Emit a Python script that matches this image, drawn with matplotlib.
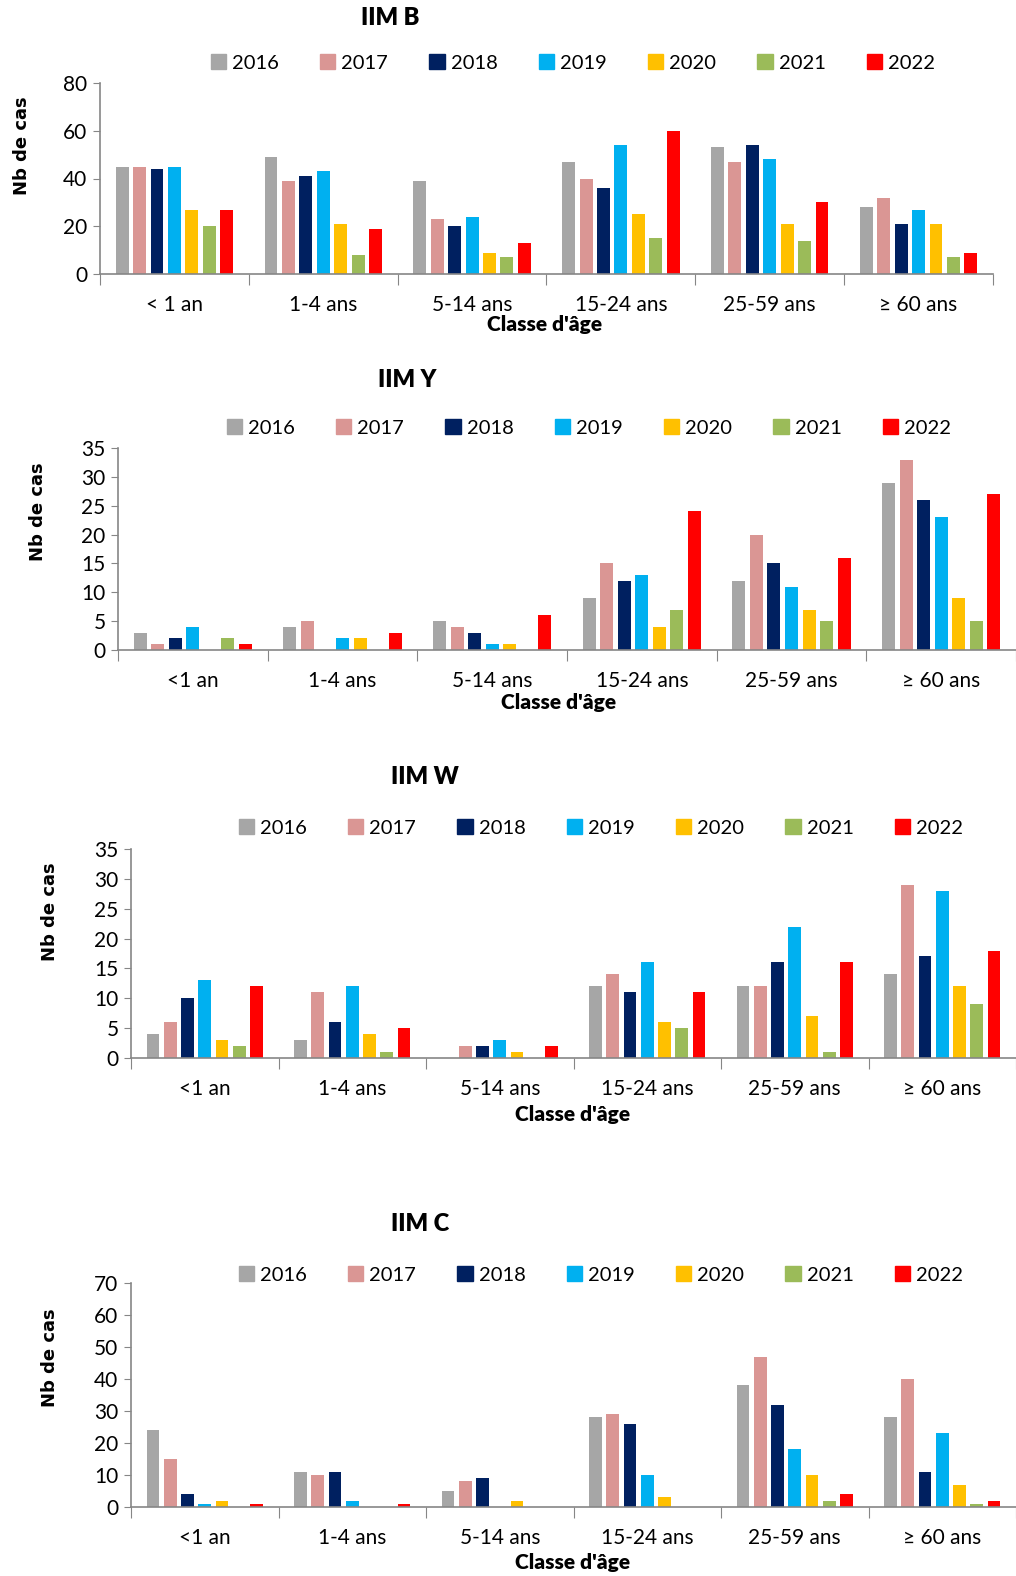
import matplotlib
matplotlib.use("Agg")
import matplotlib.pyplot as plt
import matplotlib.patches as mpatches

# categories and years
ages_b = ['< 1 an', '1-4 ans', '5-14 ans', '15-24 ans', '25-59 ans', '\u2265 60 ans']
ages = ['<1 an', '1-4 ans', '5-14 ans', '15-24 ans', '25-59 ans', '\u2265 60 ans']
years = ['2016', '2017', '2018', '2019', '2020', '2021', '2022']
colors = ['#A6A6A6', '#DA9694', '#002060', '#00B0F0', '#FFC000', '#9BBB59', '#FF0000']

# values: one list per year, one value per age class
iim_b = [
    [45, 49, 39, 47, 53, 28],
    [45, 39, 23, 40, 47, 32],
    [44, 41, 20, 36, 54, 21],
    [45, 43, 24, 54, 48, 27],
    [27, 21, 9, 25, 21, 21],
    [20, 8, 7, 15, 14, 7],
    [27, 19, 13, 60, 30, 9],
]
iim_y = [
    [3, 4, 5, 9, 12, 29],
    [1, 5, 4, 15, 20, 33],
    [2, 0, 3, 12, 15, 26],
    [4, 2, 1, 13, 11, 23],
    [0, 2, 1, 4, 7, 9],
    [2, 0, 0, 7, 5, 5],
    [1, 3, 6, 24, 16, 27],
]
iim_w = [
    [4, 3, 0, 12, 12, 14],
    [6, 11, 2, 14, 12, 29],
    [10, 6, 2, 11, 16, 17],
    [13, 12, 3, 16, 22, 28],
    [3, 4, 1, 6, 7, 12],
    [2, 1, 0, 5, 1, 9],
    [12, 5, 2, 11, 16, 18],
]
iim_c = [
    [24, 11, 5, 28, 38, 28],
    [15, 10, 8, 29, 47, 40],
    [4, 11, 9, 26, 32, 11],
    [1, 2, 0, 10, 18, 23],
    [2, 0, 2, 3, 10, 7],
    [0, 0, 0, 0, 2, 1],
    [1, 1, 0, 0, 4, 2],
]

plt.rcParams['font.family'] = ['Lato', 'DejaVu Sans']

W, H = 1016, 1576
fig = plt.figure(figsize=(W / 100, H / 100), dpi=100)


def px_axes(left, top, right, bottom):
    return fig.add_axes([left / W, 1 - bottom / H, (right - left) / W, (bottom - top) / H])


def panel(data, cats, title, box, ymax, ystep, title_xy, leg_xy, xlab_xy, ylab_xy, colsp):
    ax = px_axes(*box)
    stride = 0.117
    width = 0.087
    for j, vals in enumerate(data):
        xs = [i + (j - 3) * stride for i in range(len(cats))]
        ax.bar(xs, vals, width=width, color=colors[j], zorder=2)
    ax.set_xlim(-0.5, len(cats) - 0.5)
    ax.set_ylim(0, ymax)
    ax.set_yticks(range(0, ymax + 1, ystep))
    ax.tick_params(axis='y', labelsize=15, length=5, color='#868686', pad=4)
    # category separators as ticks, labels as minor ticks
    ax.set_xticks([i - 0.5 for i in range(len(cats) + 1)])
    ax.set_xticklabels([])
    ax.set_xticks(range(len(cats)), minor=True)
    ax.set_xticklabels(cats, minor=True)
    ax.tick_params(axis='x', which='major', length=8, color='#868686')
    ax.tick_params(axis='x', which='minor', length=0, labelsize=15, pad=15)
    for s in ['top', 'right']:
        ax.spines[s].set_visible(False)
    for s in ['left', 'bottom']:
        ax.spines[s].set_color('#868686')
        ax.spines[s].set_linewidth(1.2)
    fig.text(title_xy[0] / W, 1 - title_xy[1] / H, title, ha='center', va='center',
             fontsize=17, fontweight='heavy')
    fig.text(xlab_xy[0] / W, 1 - xlab_xy[1] / H, "Classe d'\u00e2ge", ha='center', va='center',
             fontsize=15, fontweight='heavy')
    fig.text(ylab_xy[0] / W, 1 - ylab_xy[1] / H, 'Nb de cas', ha='center', va='center',
             rotation=90, fontsize=13, fontweight='bold', family='DejaVu Sans')
    handles = [mpatches.Patch(color=c, label=y) for c, y in zip(colors, years)]
    fig.legend(handles=handles, ncol=7, loc='center left',
               bbox_to_anchor=(leg_xy[0] / W, 1 - leg_xy[1] / H), frameon=False,
               fontsize=14.5, handlelength=0.75, handleheight=0.75, handletextpad=0.3,
               columnspacing=colsp, borderaxespad=0, borderpad=0)
    return ax


panel(iim_b, ages_b, 'IIM B', (100, 83, 993, 274), 80, 20,
      (390, 18), (211, 63), (545, 325), (22, 146), 2.05)
panel(iim_y, ages, 'IIM Y', (118, 448, 1016, 650), 35, 5,
      (407, 380), (227, 428), (559, 703), (38, 512), 2.05)
panel(iim_w, ages, 'IIM W', (131, 849, 1016, 1058), 35, 5,
      (425, 777), (239, 828), (573, 1114), (50, 912), 2.05)
panel(iim_c, ages, 'IIM C', (131, 1283, 1016, 1507), 70, 10,
      (420, 1224), (239, 1275), (573, 1562), (50, 1358), 2.05)

fig.savefig('out.png', dpi=100)
